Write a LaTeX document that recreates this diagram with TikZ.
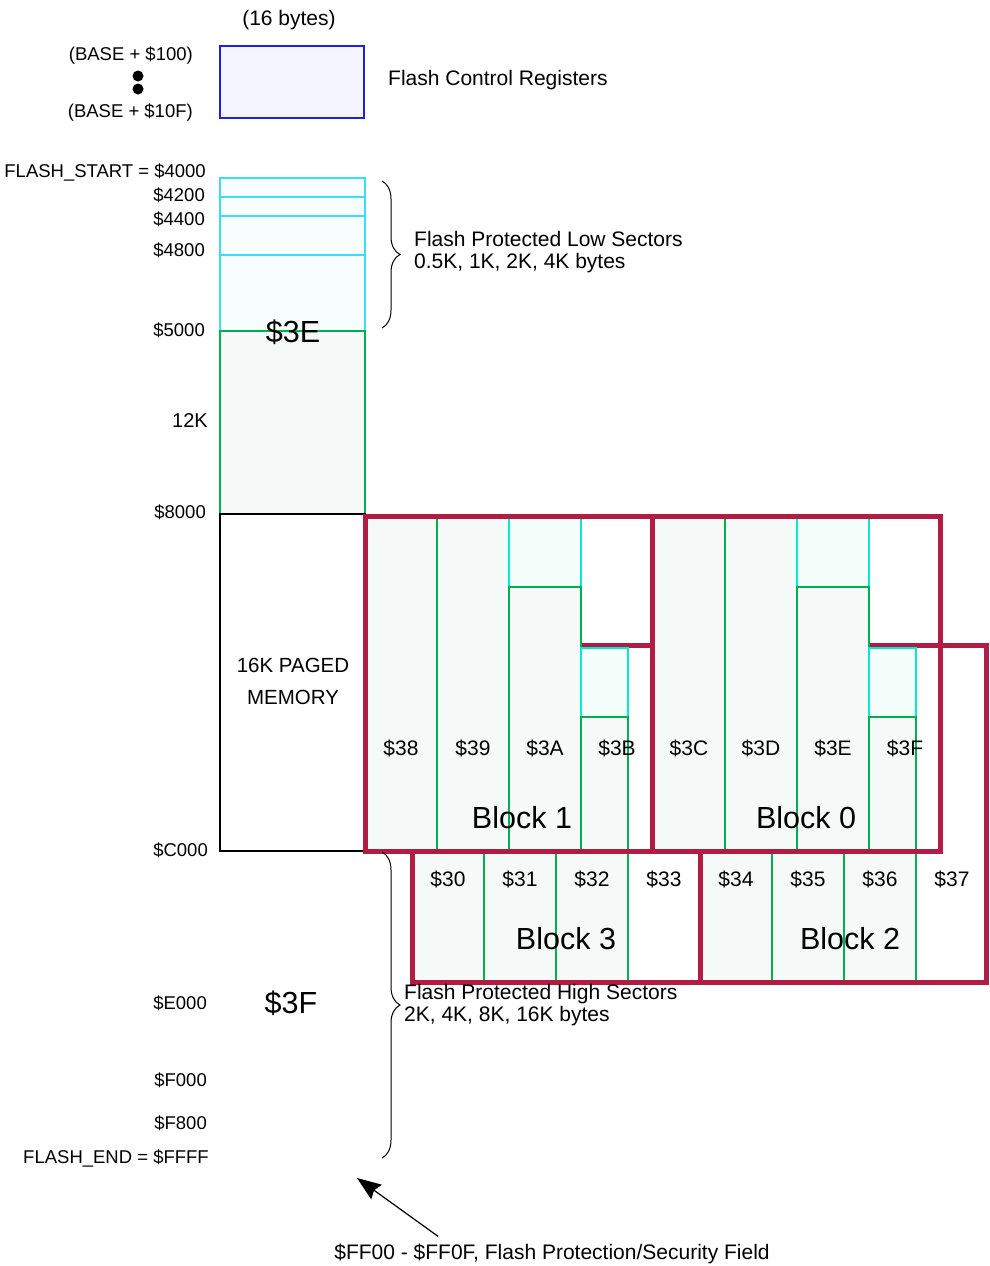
\documentclass[tikz,border=0pt]{standalone}
\usepackage{fontspec}
\setmainfont{Liberation Sans}
\usetikzlibrary{decorations.pathreplacing,arrows.meta}
\definecolor{blockred}{RGB}{176,28,68}
\definecolor{pagegreen}{RGB}{0,176,80}
\definecolor{sectcyan}{RGB}{0,235,210}
\definecolor{lowcyan}{RGB}{60,220,255}
\definecolor{regblue}{RGB}{30,30,230}
\definecolor{pagefill}{RGB}{245,250,248}
\definecolor{sectfill}{RGB}{244,255,252}
\definecolor{lowfill}{RGB}{248,254,255}
\definecolor{regfill}{RGB}{245,245,255}
\begin{document}
\begin{tikzpicture}
[x=1pt, y=-1pt,
addr/.style={anchor=east, inner sep=0pt, text height=13pt, text depth=0pt, font=\fontsize{18.5}{20}\selectfont},
note/.style={anchor=west, inner sep=0pt, align=left, font=\fontsize{21}{22}\selectfont},
pagelbl/.style={inner sep=0pt, text height=15pt, text depth=0pt, font=\fontsize{21}{22}\selectfont},
big/.style={inner sep=0pt, text height=22pt, text depth=0pt, font=\fontsize{30.5}{32}\selectfont},
page/.style={draw=pagegreen, fill=pagefill, line width=1.2pt},
sector/.style={draw=sectcyan, fill=sectfill, line width=1.2pt},
lowsec/.style={draw=lowcyan, fill=lowfill, line width=1.2pt},
blk/.style={draw=blockred, line width=5pt},
brc/.style={decorate, decoration={brace, amplitude=18pt}, line width=1pt}]
\useasboundingbox (0,0) rectangle (989,1266);

% flash control registers
\draw[draw=regblue, fill=regfill, line width=1.2pt] (220,46) rectangle (364,118);
\node[pagelbl] (bytes16) at (289,18) {(16 bytes)};
\node[addr] (base100) at (193,54) {(BASE + \$100)};
\node[addr] (base10f) at (193,111) {(BASE + \$10F)};
\fill (138,76) circle (5.5pt) (138,89) circle (5.5pt);
\node[note, text height=15pt, text depth=0pt] (fcr) at (388,78) {Flash Control Registers};

% low sectors and 12K
\draw[lowsec] (220,178) rectangle (365,331);
\foreach \yy in {197,216,255}
  \draw[lowcyan, line width=1.2pt] (220,\yy) -- (365,\yy);
\draw[page] (220,331) rectangle (365,514);
\draw[black, line width=1.2pt] (220,514) rectangle (365,851);

\node[addr] (fstart) at (206,171) {FLASH\_START = \$4000};
\node[addr] (a4200) at (205,195) {\$4200};
\node[addr] (a4400) at (205,219) {\$4400};
\node[addr] (a4800) at (205,250) {\$4800};
\node[addr] (a5000) at (205,330) {\$5000};
\node[addr, font=\fontsize{20}{22}\selectfont] (k12) at (208,421) {12K};
\node[addr] (a8000) at (206,512) {\$8000};
\node[addr] (ac000) at (208,850) {\$C000};
\node[addr] (ae000) at (207,1003) {\$E000};
\node[addr] (af000) at (207,1080) {\$F000};
\node[addr] (af800) at (207,1123) {\$F800};
\node[addr] (fend) at (209,1157) {FLASH\_END = \$FFFF};

\node[big] (p3e) at (293,331) {\$3E};
\node[big] (p3f) at (291,1002) {\$3F};
\node[pagelbl, font=\fontsize{20.5}{22}\selectfont] (paged) at (293,665) {16K PAGED};
\node[pagelbl, font=\fontsize{20.5}{22}\selectfont] (memory) at (293,697) {MEMORY};

% lower row of pages (blocks 3 and 2)
\foreach \i in {0,1,2} {
  \draw[page] (412+72*\i,645) rectangle ++(72,337);
  \draw[page] (700+72*\i,645) rectangle ++(72,337);
}
\draw[blk] (412,645) rectangle (700,982);
\draw[blk] (700,645) rectangle (986,982);

% upper row of pages (blocks 1 and 0)
\foreach \dx in {0,288} {
  \draw[page] (365+\dx,516) rectangle (437+\dx,851);
  \draw[page] (437+\dx,516) rectangle (509+\dx,851);
  \draw[sector] (509+\dx,516) rectangle (581+\dx,587);
  \draw[page] (509+\dx,587) rectangle (581+\dx,851);
  \draw[sector] (581+\dx,648) rectangle (628+\dx,717);
  \draw[page] (581+\dx,717) rectangle (628+\dx,851);
}
\draw[blk] (365,516) rectangle (652,851);
\draw[blk] (652,516) rectangle (940,851);

% page numbers
\foreach \lbl [count=\n from 0] in {38,39,3A,3B,3C,3D,3E,3F}
  \node[pagelbl] (pg\lbl) at (401+72*\n,748) {\$\lbl};
\foreach \lbl [count=\n from 0] in {30,31,32,33,34,35,36,37}
  \node[pagelbl] (pg\lbl) at (448+72*\n,879) {\$\lbl};

\node[big] (blk1) at (522,817) {Block 1};
\node[big] (blk0) at (806,817) {Block 0};
\node[big] (blk3) at (566,938) {Block 3};
\node[big] (blk2) at (850,938) {Block 2};

% braces
\draw[brc] (382,181) -- (382,328);
\node[note] (lowsec) at (414,252) {Flash Protected Low Sectors\\0.5K, 1K, 2K, 4K bytes};
\draw[brc] (382,852) -- (382,1158);
\node[note] (highsec) at (404,1005) {Flash Protected High Sectors\\2K, 4K, 8K, 16K bytes};

% security field
\node[pagelbl] (secfield) at (552,1252) {\$FF00 - \$FF0F, Flash Protection/Security Field};
\coordinate (sectip) at (357,1178);
\draw[line width=1.2pt, -{Stealth[length=24pt, width=18pt, inset=3pt]}] ([xshift=-114pt, yshift=8pt]secfield.north) -- (sectip);
\end{tikzpicture}
\end{document}
